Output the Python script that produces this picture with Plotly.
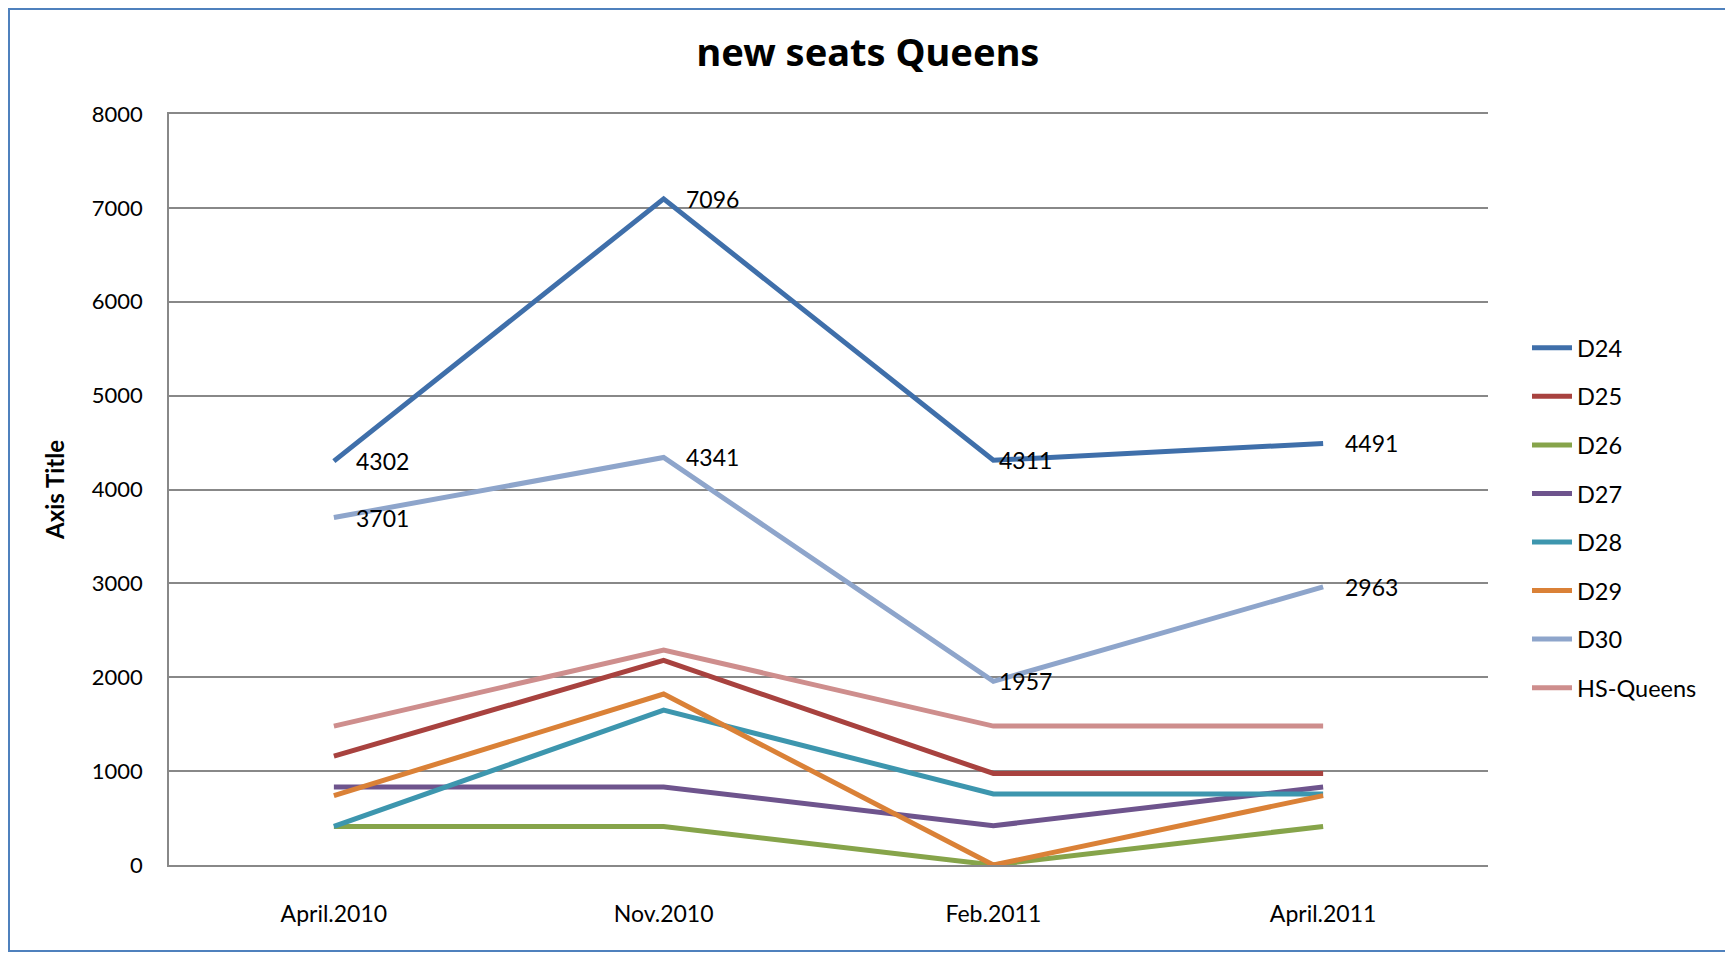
import plotly.graph_objects as go

categories = ['April.2010', 'Nov.2010', 'Feb.2011', 'April.2011']

d24 = [4302, 7096, 4311, 4491]
d25 = [1160, 2180, 975, 975]
d26 = [411, 411, 0, 411]
d27 = [832, 832, 418, 832]
d28 = [411, 1650, 757, 757]
d29 = [739, 1821, 0, 739]
d30 = [3701, 4341, 1957, 2963]
hs_queens = [1480, 2290, 1480, 1480]

series_names = ['D24', 'D25', 'D26', 'D27', 'D28', 'D29', 'D30', 'HS-Queens']
series_values = [d24, d25, d26, d27, d28, d29, d30, hs_queens]
series_colors = ['#3F6FAA', '#A8423F', '#86A44A', '#6E548D',
                 '#3D96AE', '#DA8137', '#8EA5CB', '#CE8E8D']
labelled = ['D24', 'D30']

# page has an 8px body margin, so the figure is a bit smaller than the window
OFF = 8
W, H = 1733 - OFF, 953 - OFF
L, R, T, B = 161, 245, 106, 88
plot_w = W - L - R
plot_h = H - T - B

font_family = 'Lato'
grid_col = '#888888'

fig = go.Figure()

for name, vals, color in zip(series_names, series_values, series_colors):
    fig.add_trace(go.Scatter(
        x=categories, y=vals, name=name, mode='lines',
        line=dict(color=color, width=5),
        legendgroup=name,
    ))

# data labels for D24 / D30
for name, vals in zip(series_names, series_values):
    if name not in labelled:
        continue
    for cat, v in zip(categories, vals):
        fig.add_annotation(
            x=cat, y=v, text=str(v), showarrow=False,
            xanchor='left', yanchor='middle',
            xshift=4 if cat == 'Feb.2011' else 20,
            font=dict(family=font_family, size=23, color='black'),
        )


def px_x(p):
    return (p - OFF - L) / plot_w


def px_y(p):
    return (H - B - (p - OFF)) / plot_h


# blue border round the whole chart
fig.add_shape(type='rect', xref='paper', yref='paper',
              x0=px_x(OFF + 1), x1=px_x(1731), y0=px_y(951), y1=px_y(OFF + 1),
              line=dict(color='#4F81BD', width=2), layer='above')

fig.update_layout(
    width=W, height=H,
    margin=dict(l=L, r=R, t=T, b=B),
    paper_bgcolor='white', plot_bgcolor='white',
    font=dict(family=font_family, size=22, color='black'),
    title=dict(text='<b>new seats Queens</b>', x=(868 - OFF) / W, xanchor='center',
               y=1 - (53 - OFF) / H, yanchor='middle',
               font=dict(family='Noto Sans', size=38, color='black')),
    legend=dict(x=px_x(1527), xanchor='left', y=px_y(518), yanchor='middle',
                font=dict(family=font_family, size=23.5),
                tracegroupgap=15, itemwidth=40),
    showlegend=True,
)

fig.update_xaxes(
    type='category', range=[-0.5, 3.5],
    showgrid=False, zeroline=False,
    showline=True, mirror=True, linecolor=grid_col, linewidth=1.5,
    ticks='', ticklabelstandoff=28,
    tickfont=dict(family=font_family, size=23),
)
fig.update_yaxes(
    range=[0, 8000], tickvals=list(range(0, 8001, 1000)),
    showgrid=True, gridcolor=grid_col, gridwidth=1.5,
    showline=True, linecolor=grid_col, linewidth=1.5,
    zeroline=True, zerolinecolor=grid_col, zerolinewidth=1.5,
    ticks='', ticklabelstandoff=20,
    tickfont=dict(family=font_family, size=22),
    title=dict(text='<b>Axis Title</b>', standoff=20,
               font=dict(family=font_family, size=24)),
)

fig.write_html('out.html')
